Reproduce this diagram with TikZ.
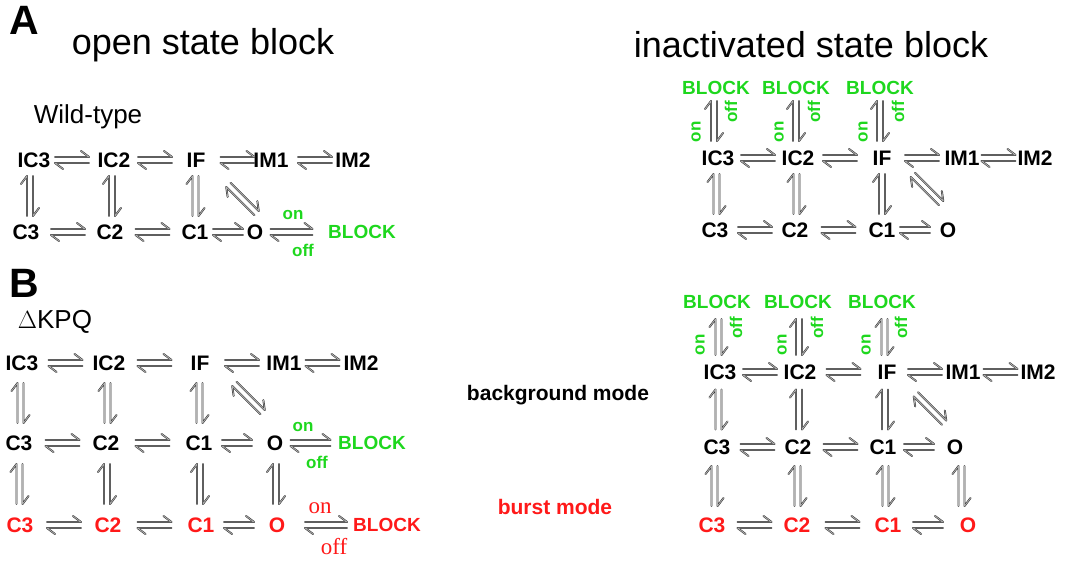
\documentclass[tikz,border=0pt]{standalone}
\usepackage{fontspec}
\setmainfont{Liberation Sans}
\newfontfamily\serifrm{Liberation Serif}
\usetikzlibrary{calc}
\definecolor{blkgreen}{RGB}{30,215,30}
\definecolor{burstred}{RGB}{255,25,25}
\newcommand{\fs}[1]{\fontsize{#1}{#1}\selectfont}

\tikzset{
  harp/.style={draw=black!80, double=black!30, double distance=0.8pt, line width=0.55pt, line join=round, line cap=round},
  pics/rxn/.style={code={
    \draw[harp] (-#1,-3) -- (#1,-3) -- ++(-8,-6);
    \draw[harp] (#1,3) -- (-#1,3) -- ++(8,6);
  }},
}

\begin{document}
\begin{tikzpicture}[x=1pt,y=-1pt,
  st/.style={font=\fs{21}\bfseries, inner sep=1pt},
  burst/.style={st, text=burstred},
  blk/.style={font=\fs{19}\bfseries, text=blkgreen, inner sep=1pt},
  onoff/.style={font=\fs{17}\bfseries, text=blkgreen, inner sep=0pt},
  redonoff/.style={font=\serifrm\fs{23}, text=burstred, inner sep=0pt},
  panel/.style={font=\fs{41}\bfseries, inner sep=0pt},
  ttl/.style={font=\fs{36}, inner sep=0pt},
  sub/.style={font=\fs{26}, inner sep=0pt},
  mode/.style={font=\fs{21}\bfseries, inner sep=0pt}]
\useasboundingbox (0,0) rectangle (1066,561);

% panel A, wild-type
\node[panel] (lblA) at (24,20) {A};
\node[ttl] (ttlA) at (203,45) {open state block};
\node[ttl] (ttlI) at (811,45) {inactivated state block};
\node[sub] (wt) at (88,117) {Wild-type};

\node[st] (aIC3) at (34,160) {IC3};
\node[st] (aIC2) at (114,160) {IC2};
\node[st] (aIF) at (196,160) {IF};
\node[st] (aIM1) at (271,160) {IM1};
\node[st] (aIM2) at (353,160) {IM2};
\node[st] (aC3) at (26,232) {C3};
\node[st] (aC2) at (110,232) {C2};
\node[st] (aC1) at (195,232) {C1};
\node[st] (aO) at (255,232) {O};
\node[blk] (aBlk) at (362,232) {BLOCK};
\node[onoff] (aOn) at (293,215) {on};
\node[onoff] (aOff) at (303,250) {off};

\pic at ($(aIC3)!0.5!(aIC2)+(-2,0)$) {rxn=17};
\pic at ($(aIC2)!0.5!(aIF)$) {rxn=17};
\pic at ($(aIF)!0.5!(aIM1)+(4,0)$) {rxn=17};
\pic at ($(aIM1)!0.5!(aIM2)+(3,0)$) {rxn=17};
\pic at ($(aC3)!0.5!(aC2)$) {rxn=17};
\pic at ($(aC2)!0.5!(aC1)$) {rxn=17};
\pic at ($(aC1)!0.5!(aO)+(3,0)$) {rxn=15};
\pic at ($(aO)!0.5!(aBlk)+(-17,0)$) {rxn=21};
\pic[rotate=90] at ($(aIC3)!0.5!(aC3)$) {rxn=20};
\pic[rotate=90] at ($(aIC2)!0.5!(aC2)$) {rxn=20};
\pic[rotate=90] at ($(aIF)!0.5!(aC1)$) {rxn=20};
\pic[rotate=-45] at ($(aIF)!0.5!(aO)+(17,3)$) {rxn=20};

% inactivated state block, wild-type
\node[blk] (rBlk3) at (716,88) {BLOCK};
\node[blk] (rBlk2) at (796,88) {BLOCK};
\node[blk] (rBlkF) at (880,88) {BLOCK};
\node[st] (rIC3) at (718,158) {IC3};
\node[st] (rIC2) at (798,158) {IC2};
\node[st] (rIF) at (882,158) {IF};
\node[st] (rIM1) at (962,158) {IM1};
\node[st] (rIM2) at (1035,158) {IM2};
\node[st] (rC3) at (715,230) {C3};
\node[st] (rC2) at (795,230) {C2};
\node[st] (rC1) at (882,230) {C1};
\node[st] (rO) at (948,230) {O};

\pic[rotate=90] at ($(rBlk3)!0.5!(rIC3)+(-3,-2)$) {rxn=20};
\pic[rotate=90] at ($(rBlk2)!0.5!(rIC2)+(-1,-2)$) {rxn=20};
\pic[rotate=90] at ($(rBlkF)!0.5!(rIF)+(-1,-2)$) {rxn=20};
\node[onoff, rotate=90] (rOn3) at (696,132) {on};
\node[onoff, rotate=90] (rOff3) at (731,112) {off};
\node[onoff, rotate=90] (rOn2) at (779,132) {on};
\node[onoff, rotate=90] (rOff2) at (814,112) {off};
\node[onoff, rotate=90] (rOnF) at (863,132) {on};
\node[onoff, rotate=90] (rOffF) at (898,112) {off};

\pic at ($(rIC3)!0.5!(rIC2)$) {rxn=17};
\pic at ($(rIC2)!0.5!(rIF)$) {rxn=17};
\pic at ($(rIF)!0.5!(rIM1)$) {rxn=17};
\pic at ($(rIM1)!0.5!(rIM2)$) {rxn=17};
\pic at ($(rC3)!0.5!(rC2)$) {rxn=17};
\pic at ($(rC2)!0.5!(rC1)$) {rxn=17};
\pic at ($(rC1)!0.5!(rO)$) {rxn=15};
\pic[rotate=90] at ($(rIC3)!0.5!(rC3)$) {rxn=20};
\pic[rotate=90] at ($(rIC2)!0.5!(rC2)$) {rxn=20};
\pic[rotate=90] at ($(rIF)!0.5!(rC1)$) {rxn=20};
\pic[rotate=-45] at ($(rIF)!0.5!(rO)+(12,-5)$) {rxn=20};

% panel B, dKPQ
\node[panel] (lblB) at (24,283) {B};
\node[sub] (kpq) at (55,322) {$\Delta$KPQ};

\node[st] (bIC3) at (22,363) {IC3};
\node[st] (bIC2) at (109,363) {IC2};
\node[st] (bIF) at (200,363) {IF};
\node[st] (bIM1) at (284,363) {IM1};
\node[st] (bIM2) at (361,363) {IM2};
\node[st] (bC3) at (19,443) {C3};
\node[st] (bC2) at (106,443) {C2};
\node[st] (bC1) at (199,443) {C1};
\node[st] (bO) at (275,443) {O};
\node[blk] (bBlk) at (372,443) {BLOCK};
\node[onoff] (bOn) at (303,427) {on};
\node[onoff] (bOff) at (317,462) {off};
\node[burst] (bRC3) at (20,525) {C3};
\node[burst] (bRC2) at (108,525) {C2};
\node[burst] (bRC1) at (201,525) {C1};
\node[burst] (bRO) at (277,525) {O};
\node[blk, text=burstred] (bRBlk) at (387,525) {BLOCK};
\node[redonoff] (bROn) at (320,508) {on};
\node[redonoff] (bROff) at (334,547) {off};

\pic at ($(bIC3)!0.5!(bIC2)$) {rxn=17};
\pic at ($(bIC2)!0.5!(bIF)$) {rxn=17};
\pic at ($(bIF)!0.5!(bIM1)$) {rxn=17};
\pic at ($(bIM1)!0.5!(bIM2)$) {rxn=17};
\pic at ($(bC3)!0.5!(bC2)$) {rxn=17};
\pic at ($(bC2)!0.5!(bC1)$) {rxn=17};
\pic at ($(bC1)!0.5!(bO)$) {rxn=15};
\pic at ($(bO)!0.5!(bBlk)+(-13,0)$) {rxn=20};
\pic at ($(bRC3)!0.5!(bRC2)$) {rxn=17};
\pic at ($(bRC2)!0.5!(bRC1)$) {rxn=17};
\pic at ($(bRC1)!0.5!(bRO)$) {rxn=15};
\pic at ($(bRO)!0.5!(bRBlk)+(-6,0)$) {rxn=21};
\pic[rotate=90] at ($(bIC3)!0.5!(bC3)$) {rxn=20};
\pic[rotate=90] at ($(bIC2)!0.5!(bC2)$) {rxn=20};
\pic[rotate=90] at ($(bIF)!0.5!(bC1)$) {rxn=20};
\pic[rotate=-45] at ($(bIF)!0.5!(bO)+(11,-5)$) {rxn=20};
\pic[rotate=90] at ($(bC3)!0.5!(bRC3)$) {rxn=20};
\pic[rotate=90] at ($(bC2)!0.5!(bRC2)$) {rxn=20};
\pic[rotate=90] at ($(bC1)!0.5!(bRC1)$) {rxn=20};
\pic[rotate=90] at ($(bO)!0.5!(bRO)$) {rxn=20};

\node[mode] (bgmode) at (558,395) {background mode};
\node[mode, text=burstred] (bsmode) at (555,507) {burst mode};

% inactivated state block, dKPQ
\node[blk] (sBlk3) at (717,302) {BLOCK};
\node[blk] (sBlk2) at (798,302) {BLOCK};
\node[blk] (sBlkF) at (882,302) {BLOCK};
\node[st] (sIC3) at (720,372) {IC3};
\node[st] (sIC2) at (800,372) {IC2};
\node[st] (sIF) at (887,372) {IF};
\node[st] (sIM1) at (963,372) {IM1};
\node[st] (sIM2) at (1038,372) {IM2};
\node[st] (sC3) at (717,447) {C3};
\node[st] (sC2) at (798,447) {C2};
\node[st] (sC1) at (883,447) {C1};
\node[st] (sO) at (955,447) {O};
\node[burst] (sRC3) at (712,525) {C3};
\node[burst] (sRC2) at (797,525) {C2};
\node[burst] (sRC1) at (888,525) {C1};
\node[burst] (sRO) at (968,525) {O};

\pic[rotate=90] at ($(sBlk3)!0.5!(sIC3)$) {rxn=18};
\pic[rotate=90] at ($(sBlk2)!0.5!(sIC2)$) {rxn=18};
\pic[rotate=90] at ($(sBlkF)!0.5!(sIF)$) {rxn=18};
\node[onoff, rotate=90] (sOn3) at (700,345) {on};
\node[onoff, rotate=90] (sOff3) at (736,328) {off};
\node[onoff, rotate=90] (sOn2) at (782,345) {on};
\node[onoff, rotate=90] (sOff2) at (817,328) {off};
\node[onoff, rotate=90] (sOnF) at (866,345) {on};
\node[onoff, rotate=90] (sOffF) at (901,328) {off};

\pic at ($(sIC3)!0.5!(sIC2)$) {rxn=17};
\pic at ($(sIC2)!0.5!(sIF)$) {rxn=17};
\pic at ($(sIF)!0.5!(sIM1)$) {rxn=17};
\pic at ($(sIM1)!0.5!(sIM2)$) {rxn=17};
\pic at ($(sC3)!0.5!(sC2)$) {rxn=17};
\pic at ($(sC2)!0.5!(sC1)$) {rxn=17};
\pic at ($(sC1)!0.5!(sO)$) {rxn=15};
\pic at ($(sRC3)!0.5!(sRC2)$) {rxn=17};
\pic at ($(sRC2)!0.5!(sRC1)$) {rxn=17};
\pic at ($(sRC1)!0.5!(sRO)$) {rxn=15};
\pic[rotate=90] at ($(sIC3)!0.5!(sC3)$) {rxn=20};
\pic[rotate=90] at ($(sIC2)!0.5!(sC2)$) {rxn=20};
\pic[rotate=90] at ($(sIF)!0.5!(sC1)$) {rxn=20};
\pic[rotate=-45] at ($(sIF)!0.5!(sO)+(9,-1)$) {rxn=20};
\pic[rotate=90] at ($(sC3)!0.5!(sRC3)$) {rxn=20};
\pic[rotate=90] at ($(sC2)!0.5!(sRC2)$) {rxn=20};
\pic[rotate=90] at ($(sC1)!0.5!(sRC1)$) {rxn=20};
\pic[rotate=90] at ($(sO)!0.5!(sRO)$) {rxn=20};
\end{tikzpicture}
\end{document}
